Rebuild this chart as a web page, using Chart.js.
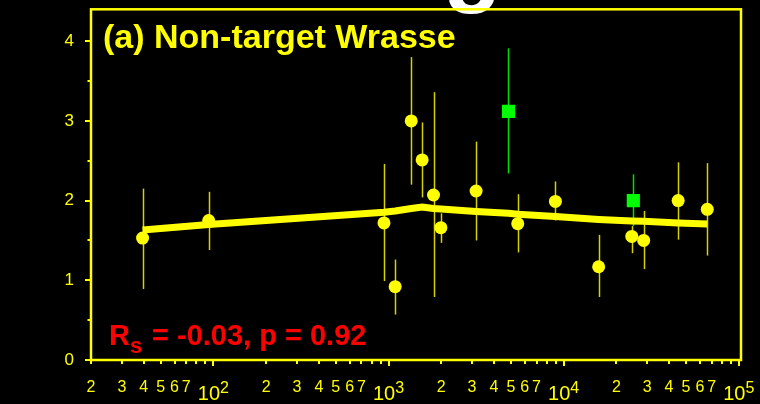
<!DOCTYPE html>
<html>
<head>
<meta charset="utf-8">
<script src="https://cdn.jsdelivr.net/npm/chart.js@4.4.1/dist/chart.umd.min.js"></script>
<style>
  html, body { margin: 0; padding: 0; background: #000; }
  canvas { display: block; }
</style>
</head>
<body>
<canvas id="wrasseChart" width="760" height="404"></canvas>
<script>
// yellow circles (sites)
const wrasseX = [39.4, 94, 942, 1091, 1348, 1556, 1807, 1991, 3163, 5470, 8975, 15850, 24500, 28640, 45080, 66100];
const wrasseY = [1.53, 1.75, 1.72, 0.92, 3.00, 2.51, 2.07, 1.66, 2.12, 1.71, 1.99, 1.17, 1.55, 1.50, 2.00, 1.89];
const wrasseLow = [0.89, 1.38, 0.99, 0.57, 2.20, 2.04, 0.79, 1.47, 1.50, 1.35, 1.75, 0.79, 1.34, 1.14, 1.51, 1.31];
const wrasseHigh = [2.15, 2.11, 2.46, 1.26, 3.80, 2.98, 3.36, 1.84, 2.74, 2.08, 2.24, 1.57, 1.68, 1.87, 2.48, 2.47];

// green squares
const greenX = [4842, 25000];
const greenY = [3.12, 2.00];
const greenLow = [2.34, 1.68];
const greenHigh = [3.91, 2.33];

// smoothed trend line
const fitX = [39.4, 94, 942, 1091, 1348, 1556, 1807, 1991, 3163, 4842, 5470, 8975, 15850, 24500, 28640, 45080, 66100];
const fitY = [1.63, 1.70, 1.855, 1.87, 1.90, 1.92, 1.90, 1.895, 1.863, 1.84, 1.83, 1.80, 1.764, 1.745, 1.74, 1.72, 1.705];

// axis ticks
const decades = [1, 2, 3, 4];
const mantissas = [2, 3, 4, 5, 6, 7, 8, 9];
const labelledMantissas = [2, 3, 4, 5, 6, 7];
const yTicks = [0, 0.5, 1, 1.5, 2, 2.5, 3, 3.5, 4];
const yLabels = ['0', '1', '2', '3', '4'];

const titleText = '(a) Non-target Wrasse';
const statMain = 'R';
const statSub = 's';
const statRest = '= -0.03, p = 0.92';

const YEL = '#ffff00';
const FONT = "'Liberation Sans', Arial, sans-serif";

const xTickValues = [];
decades.forEach(d => {
  mantissas.forEach(m => xTickValues.push(m * Math.pow(10, d)));
  xTickValues.push(Math.pow(10, d + 1));
});

const toPoints = (xs, ys) => xs.map((x, i) => ({ x: x, y: ys[i] }));
const isPow10 = v => Math.abs(Math.log10(v) - Math.round(Math.log10(v))) < 1e-9;

const backdropPlugin = {
  id: 'backdrop',
  beforeDraw: (chart) => {
    const ctx = chart.ctx;
    ctx.save();
    ctx.fillStyle = '#000';
    ctx.fillRect(0, 0, chart.width, chart.height);
    // tail of a larger heading cut off above the panel
    ctx.fillStyle = '#fff';
    ctx.font = `bold 96px ${FONT}`;
    ctx.textBaseline = 'alphabetic';
    ctx.fillText('g', 443, -6);
    ctx.restore();
  }
};

const errorBarPlugin = {
  id: 'errorBars',
  beforeDatasetsDraw: (chart) => {
    const ctx = chart.ctx;
    const xs = chart.scales.x;
    const ys = chart.scales.y;
    const drawBars = (xv, lo, hi, color, w) => {
      ctx.strokeStyle = color;
      ctx.lineWidth = w;
      xv.forEach((v, i) => {
        const px = Math.round(xs.getPixelForValue(v)) + 0.5;
        ctx.beginPath();
        ctx.moveTo(px, ys.getPixelForValue(lo[i]));
        ctx.lineTo(px, ys.getPixelForValue(hi[i]));
        ctx.stroke();
      });
    };
    ctx.save();
    drawBars(wrasseX, wrasseLow, wrasseHigh, '#d6d200', 1.5);
    drawBars(greenX, greenLow, greenHigh, '#00e000', 1.5);
    ctx.restore();
  }
};

const decorPlugin = {
  id: 'decor',
  afterDraw: (chart) => {
    const ctx = chart.ctx;
    const area = chart.chartArea;
    const xs = chart.scales.x;
    const ys = chart.scales.y;
    ctx.save();
    ctx.strokeStyle = YEL;
    ctx.fillStyle = YEL;

    // tick marks
    ctx.lineWidth = 2;
    xTickValues.forEach(v => {
      const px = Math.round(xs.getPixelForValue(v));
      const len = isPow10(v) ? 6 : 4;
      ctx.beginPath();
      ctx.moveTo(px, area.bottom);
      ctx.lineTo(px, area.bottom + len);
      ctx.stroke();
    });
    yTicks.forEach(v => {
      const py = Math.round(ys.getPixelForValue(v));
      const len = Number.isInteger(v) ? 6 : 3.5;
      ctx.beginPath();
      ctx.moveTo(area.left - len, py);
      ctx.lineTo(area.left, py);
      ctx.stroke();
    });

    // frame
    ctx.lineWidth = 2.5;
    ctx.strokeRect(area.left, area.top, area.right - area.left, area.bottom - area.top);

    // decade labels 10^n
    decades.forEach(d => {
      const v = Math.pow(10, d + 1);
      const px = xs.getPixelForValue(v);
      const sup = String(d + 1);
      ctx.font = `20px ${FONT}`;
      const w1 = ctx.measureText('10').width;
      ctx.font = `16px ${FONT}`;
      const w2 = ctx.measureText(sup).width;
      const x0 = px - (w1 + w2) / 2;
      ctx.textBaseline = 'alphabetic';
      ctx.textAlign = 'left';
      ctx.font = `20px ${FONT}`;
      ctx.fillText('10', x0, 400);
      ctx.font = `16px ${FONT}`;
      ctx.fillText(sup, x0 + w1, 393);
    });

    // panel title
    ctx.font = `bold 34px ${FONT}`;
    ctx.fillText(titleText, 103, 48);

    // correlation
    ctx.fillStyle = '#ff0000';
    ctx.font = `bold 29px ${FONT}`;
    ctx.fillText(statMain, 109, 345);
    const rw = ctx.measureText(statMain).width;
    ctx.font = `bold 22px ${FONT}`;
    ctx.fillText(statSub, 109 + rw, 353);
    ctx.font = `bold 29px ${FONT}`;
    ctx.fillText(statRest, 152, 345);
    ctx.restore();
  }
};

const noEdgePadding = (scale) => {
  scale.paddingTop = 0;
  scale.paddingBottom = 0;
  scale.paddingLeft = 0;
  scale.paddingRight = 0;
};

new Chart(document.getElementById('wrasseChart'), {
  type: 'scatter',
  data: {
    datasets: [
      {
        type: 'line',
        label: 'trend',
        data: toPoints(fitX, fitY),
        borderColor: YEL,
        borderWidth: 7,
        pointRadius: 0,
        fill: false,
        tension: 0,
        order: 0
      },
      {
        label: 'sites',
        data: toPoints(wrasseX, wrasseY),
        pointStyle: 'circle',
        pointRadius: 6.5,
        backgroundColor: YEL,
        borderWidth: 0,
        order: 1
      },
      {
        label: 'green sites',
        data: toPoints(greenX, greenY),
        pointStyle: 'rect',
        pointRadius: 9.3,
        backgroundColor: '#00ff00',
        borderWidth: 0,
        order: 1
      }
    ]
  },
  options: {
    responsive: false,
    devicePixelRatio: 1,
    animation: false,
    layout: { padding: { top: 6, right: 19, left: 0, bottom: 0 } },
    plugins: {
      legend: { display: false },
      tooltip: { enabled: false }
    },
    scales: {
      x: {
        type: 'logarithmic',
        min: 20,
        max: 103000,
        afterBuildTicks: (scale) => {
          scale.ticks = xTickValues.map(v => ({ value: v }));
        },
        afterFit: (scale) => { scale.height = 44; noEdgePadding(scale); },
        grid: { display: false },
        border: { display: false },
        ticks: {
          autoSkip: false,
          maxRotation: 0,
          color: YEL,
          padding: 10,
          font: { family: FONT, size: 16 },
          callback: (value) => {
            if (isPow10(value)) return '';
            const m = Math.round(value / Math.pow(10, Math.floor(Math.log10(value) + 1e-9)));
            return labelledMantissas.includes(m) ? String(m) : '';
          }
        }
      },
      y: {
        type: 'linear',
        min: 0,
        max: 4.4,
        afterBuildTicks: (scale) => {
          scale.ticks = yTicks.map(v => ({ value: v }));
        },
        afterFit: (scale) => { scale.width = 91; noEdgePadding(scale); },
        grid: { display: false },
        border: { display: false },
        ticks: {
          color: YEL,
          padding: 9,
          font: { family: FONT, size: 17 },
          callback: (value) => Number.isInteger(value) ? yLabels[value] : ''
        }
      }
    }
  },
  plugins: [backdropPlugin, errorBarPlugin, decorPlugin]
});
</script>
</body>
</html>
